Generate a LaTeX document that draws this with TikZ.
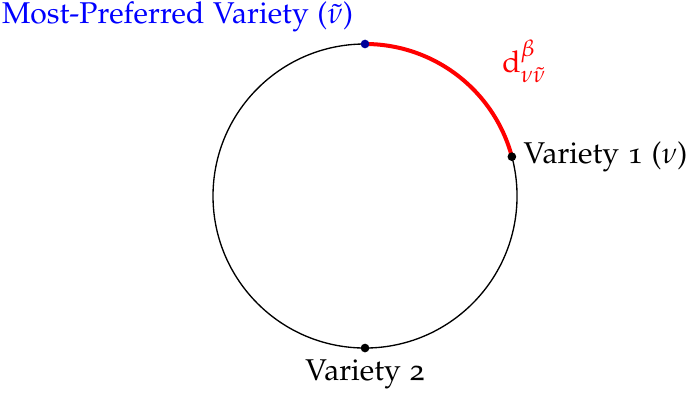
\documentclass[tikz,border=0pt]{standalone}
\usepackage[T1]{fontenc}
\usepackage[osf]{mathpazo}
\usepackage{tikz}
\usetikzlibrary{positioning}

\begin{document}
\begin{tikzpicture}[
    every node/.style={font=\small},
    variety/.style={circle, fill=black, inner sep=0pt, minimum size=2.6pt},
    ring/.style={draw=black, line width=0.4pt},
    dist/.style={draw=red, very thick},
]
\useasboundingbox (-3.842,-2.105) rectangle (3.389,2.063);

% ── circle of varieties ──
\draw[ring] (0,0) circle (1.6cm);
\coordinate (ptop) at (90:1.6cm);
\coordinate (pone) at (15:1.6cm);
\coordinate (ptwo) at (270:1.6cm);

% ── distance to the preferred variety ──
\draw[dist] (ptop) arc[start angle=90, end angle=15, radius=1.6cm];

% ── points ──
\node[variety, fill=blue!60!black] (top) at (ptop) {};
\node[variety] (v1) at (pone) {};
\node[variety] (v2) at (ptwo) {};

% ── labels ──
\node[above left, text=blue] (toplabel) at (top.center) {Most-Preferred Variety ($\tilde{\nu}$)};
\node[right] (v1label) at (v1.center) {Variety 1 ($\nu$)};
\node[below] (v2label) at (v2.center) {Variety 2};
\node[text=red] (dlabel) at (1.68,1.42) {$\mathrm{d}^{\beta}_{\nu\tilde{\nu}}$};

\end{tikzpicture}
\end{document}
